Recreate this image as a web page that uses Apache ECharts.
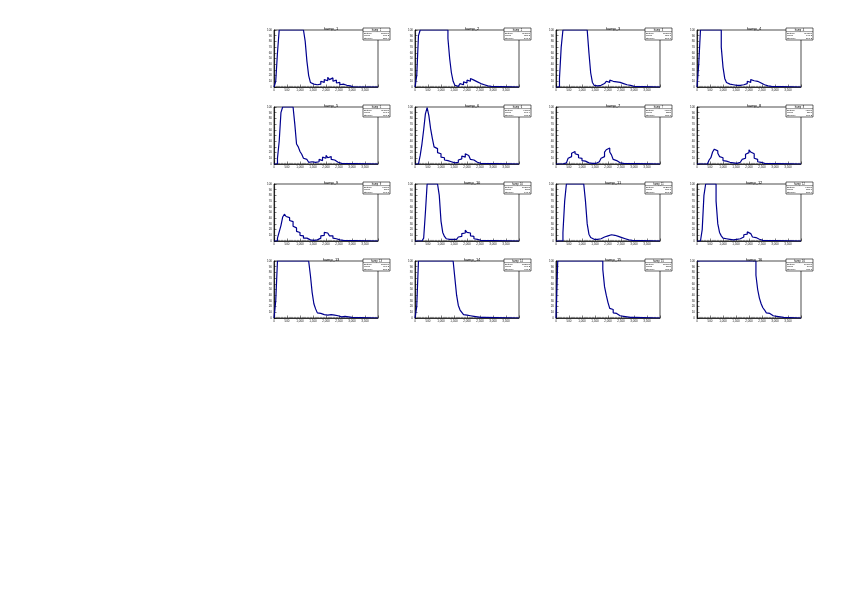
<!DOCTYPE html>
<html>
<head>
<meta charset="utf-8">
<script src="https://cdn.jsdelivr.net/npm/echarts@6/dist/echarts.min.js"></script>
<style>html,body{margin:0;padding:0;background:#fff}#c{width:842px;height:595px}</style>
</head>
<body>
<div id="c"></div>
<script>
// ---- data ----
const names = ["hamp_1","hamp_2","hamp_3","hamp_4","hamp_5","hamp_6","hamp_7","hamp_8",
               "hamp_9","hamp_10","hamp_11","hamp_12","hamp_13","hamp_14","hamp_15","hamp_16"];
const xTicks = [0, 500, 1000, 1500, 2000, 2500, 3000, 3500, 4000];
const yTicks = [0, 10, 20, 30, 40, 50, 60, 70, 80, 90, 100];
const C = 150; // bin content above the frame maximum (drawn clipped at the top)
const h1  = [0,10,60,C,C,C,C,C,C,C,C,C,C,C,C,C,C,C,80,45,20,8,5,2,4,7,5,10,8,13,11,17,13,16,10,12,7,8,4,5,2,3,1,2,1,0,1];
const h2  = [0,20,90,C,C,C,C,C,C,C,C,C,C,C,C,C,C,C,C,85,50,25,10,3,1,3,6,4,9,7,12,10,15,12,14,9,10,6,7,4,3,2,2,1,1];
const h3  = [0,0,15,70,C,C,C,C,C,C,C,C,C,C,C,C,C,C,C,60,25,8,3,2,1,3,2,6,5,10,8,12,10,13,9,11,8,10,6,8,4,5,3,2,1,1];
const h4  = [0,40,C,C,C,C,C,C,C,C,C,C,C,C,70,35,15,8,5,3,4,2,3,5,3,6,4,7,6,10,8,13,11,14,10,12,7,6,4,3,2,1,1];
const h5  = [0,0,10,40,90,C,C,C,C,C,C,C,70,35,30,22,17,10,8,5,3,4,2,3,5,4,8,6,12,10,15,11,13,8,7,4,3,2,1,1];
const h6  = [0,0,3,15,35,60,88,99,85,62,45,30,27,20,18,12,11,7,6,3,4,2,2,4,3,7,9,14,12,18,15,13,8,7,4,3,2,1,1];
const h7  = [0,0,0,0,0,2,5,10,13,19,22,18,16,11,10,6,5,3,2,2,1,1,1,2,4,5,10,13,21,25,28,21,16,8,6,3,2,1,1];
const h8  = [0,0,0,0,0,0,2,7,11,21,26,23,19,13,11,6,5,3,3,1,2,1,1,1,3,4,8,10,17,20,25,21,18,10,8,4,3,2,1,1];
const h9  = [0,0,5,16,27,42,47,43,41,36,34,26,23,17,15,10,9,5,5,3,2,2,1,1,2,4,5,9,10,15,14,14,9,9,5,4,3,2,2,1,1];
const h10 = [0,0,0,0,0,5,50,C,C,C,C,C,C,C,80,35,15,8,4,3,2,3,1,3,4,7,8,13,14,19,15,14,9,8,4,3,2,1,1];
const h11 = [0,0,0,0,15,70,C,C,C,C,C,C,C,C,C,C,C,70,30,12,6,3,2,3,2,4,5,7,6,9,8,11,9,10,7,8,5,6,4,4,3,2,2,1,1];
const h12 = [0,0,0,20,80,C,C,C,C,C,C,70,30,15,9,5,4,3,3,2,2,1,3,2,4,6,7,11,12,16,13,11,7,6,3,3,2,1,1];
const h13 = [0,30,C,C,C,C,C,C,C,C,C,C,C,C,C,C,C,C,C,C,C,75,45,25,16,9,8,5,6,3,5,4,6,3,5,2,4,3,2,1,3,1,2,1,1];
const h14 = [0,20,C,C,C,C,C,C,C,C,C,C,C,C,C,C,C,C,C,C,C,C,C,70,40,22,14,10,6,5,4,4,3,3,2,2,2,1,1,1,1];
const h15 = [0,C,C,C,C,C,C,C,C,C,C,C,C,C,C,C,C,C,C,C,C,C,C,C,C,C,C,85,55,40,27,17,15,9,8,5,4,3,3,2,2,2,1,1,1,1];
const h16 = [C,C,C,C,C,C,C,C,C,C,C,C,C,C,C,C,C,C,C,C,C,C,C,C,C,C,C,C,C,C,C,C,C,C,75,50,35,25,18,14,9,8,5,4,3,3,2,2,1,1,1];
const hists = [h1,h2,h3,h4,h5,h6,h7,h8,h9,h10,h11,h12,h13,h14,h15,h16];
const statEntries = ["120000","118000","121000","119500","117000","90000","40000","41000","70000","105000","112000","98000","130000","135000","150000","160000"];
const statMean    = ["780.2","820.5","850.1","640.3","690.8","760.4","1320","1390","1010","1080","880.7","720.6","910.3","960.2","1120","1480"];
const statStd     = ["520.4","540.1","560.7","590.2","610.3","680.5","720.6","700.2","690.8","640.1","560.5","580.9","500.2","480.3","450.6","430.1"];

// ---- layout ----
const colLeft = [274, 415, 556, 697];
const rowTop = [30, 107, 184, 261];
const fw = 104, fh = 57;
const nBins = 60;
const xMin = xTicks[0], xMax = xTicks[xTicks.length - 1];
const yMin = yTicks[0], yMax = yTicks[yTicks.length - 1];
const binW = (xMax - xMin) / nBins;
const blue = '#00008f';
const font = 'Liberation Sans';

const grids = [], xAxes = [], yAxes = [], series = [], titles = [], graphics = [];
hists.forEach((vals, k) => {
  const r = Math.floor(k / 4), c = k % 4;
  const L = colLeft[c], T = rowTop[r];
  grids.push({left: L, top: T, width: fw, height: fh, show: true, borderColor: '#000', borderWidth: 0.7});
  xAxes.push({
    type: 'value', gridIndex: k, min: xMin, max: xMax, interval: xTicks[1] - xTicks[0],
    axisLine: {show: true, lineStyle: {color: '#000', width: 0.7}},
    axisTick: {show: true, inside: true, length: 2.5, lineStyle: {color: '#000', width: 0.5}},
    minorTick: {show: true, splitNumber: 5, length: 1.2, lineStyle: {color: '#000', width: 0.4}},
    axisLabel: {show: true, fontSize: 3, margin: 2, color: '#222', fontFamily: font, showMaxLabel: false},
    splitLine: {show: false}
  });
  yAxes.push({
    type: 'value', gridIndex: k, min: yMin, max: yMax, interval: yTicks[1] - yTicks[0],
    axisLine: {show: true, lineStyle: {color: '#000', width: 0.7}},
    axisTick: {show: true, inside: true, length: 2.5, lineStyle: {color: '#000', width: 0.5}},
    minorTick: {show: true, splitNumber: 5, length: 1.2, lineStyle: {color: '#000', width: 0.4}},
    axisLabel: {show: true, fontSize: 3, margin: 2, color: '#222', fontFamily: font},
    splitLine: {show: false}
  });
  // histogram drawn as steps; contents above the frame are drawn on the frame top (ROOT style)
  const data = vals.map((v, i) => [xMin + i * binW, Math.min(v, yMax)]);
  data.push([xMin + vals.length * binW, Math.min(vals[vals.length - 1], yMax)]);
  data.push([xMin + vals.length * binW, 0]);
  data.push([xMax, 0]);
  series.push({
    type: 'line', xAxisIndex: k, yAxisIndex: k, data: data, step: 'end',
    showSymbol: false, symbol: 'none', clip: true, silent: true,
    lineStyle: {color: blue, width: 1.2}
  });
  titles.push({
    text: names[k], left: L + fw / 2, top: T - 8, textAlign: 'center',
    textStyle: {fontSize: 4, fontWeight: 'normal', color: '#000', fontFamily: font}
  });
  const bx = L + fw - 15, by = T - 2, bw = 27, bh = 12;
  graphics.push({
    type: 'group', x: bx, y: by, z: 100, children: [
      {type: 'rect', shape: {x: 0, y: 0, width: bw, height: bh}, style: {fill: '#fff', stroke: '#000', lineWidth: 0.6}},
      {type: 'line', shape: {x1: 0, y1: 3.6, x2: bw, y2: 3.6}, style: {stroke: '#000', lineWidth: 0.4}},
      {type: 'text', x: bw / 2, y: 0.6, style: {text: names[k], fontSize: 2.6, fill: '#000', align: 'center', fontFamily: font}},
      {type: 'text', x: 1, y: 4.3, style: {text: 'Entries', fontSize: 2.4, fill: '#000', fontFamily: font}},
      {type: 'text', x: bw - 1, y: 4.3, style: {text: statEntries[k], fontSize: 2.4, fill: '#000', align: 'right', fontFamily: font}},
      {type: 'text', x: 1, y: 6.8, style: {text: 'Mean', fontSize: 2.4, fill: '#000', fontFamily: font}},
      {type: 'text', x: bw - 1, y: 6.8, style: {text: statMean[k], fontSize: 2.4, fill: '#000', align: 'right', fontFamily: font}},
      {type: 'text', x: 1, y: 9.3, style: {text: 'Std Dev', fontSize: 2.4, fill: '#000', fontFamily: font}},
      {type: 'text', x: bw - 1, y: 9.3, style: {text: statStd[k], fontSize: 2.4, fill: '#000', align: 'right', fontFamily: font}}
    ]
  });
});

const chart = echarts.init(document.getElementById('c'), null, {renderer: 'canvas'});
chart.setOption({
  animation: false,
  backgroundColor: '#fff',
  title: titles,
  grid: grids,
  xAxis: xAxes,
  yAxis: yAxes,
  series: series,
  graphic: graphics
});
</script>
</body>
</html>
